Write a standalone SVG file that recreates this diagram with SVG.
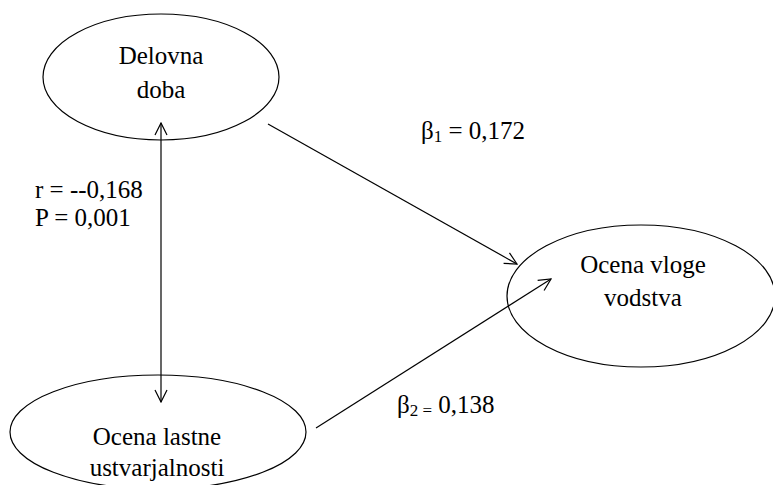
<svg xmlns="http://www.w3.org/2000/svg" width="773" height="485" viewBox="0 0 773 485">
<defs>
<marker id="ah" viewBox="0 0 14 14" refX="13" refY="7" markerWidth="14" markerHeight="14" markerUnits="userSpaceOnUse" orient="auto-start-reverse">
<path d="M1,1 L13,7 L1,13" fill="none" stroke="#000" stroke-width="1.2"/>
</marker>
<style>
.n{fill:#fff;stroke:#000;stroke-width:1.2}
.t{font-family:"Liberation Serif","Times New Roman",serif;font-size:25px;fill:#000}
.c{stroke:#000;stroke-width:1.2;fill:none}
</style>
</defs>
<rect width="773" height="485" fill="#fff"/>
<g id="node-delovna">
<ellipse class="n" cx="161" cy="77" rx="118" ry="63"/>
<text class="t" x="161" y="64" text-anchor="middle">Delovna</text>
<text class="t" x="161" y="98" text-anchor="middle">doba</text>
</g>
<g id="node-vodstvo">
<ellipse class="n" cx="641" cy="296" rx="134" ry="71"/>
<text class="t" x="643" y="273" text-anchor="middle">Ocena vloge</text>
<text class="t" x="643" y="306" text-anchor="middle">vodstva</text>
</g>
<g id="node-ustvarjalnost">
<ellipse class="n" cx="158" cy="432" rx="148" ry="57"/>
<text class="t" x="157" y="445" text-anchor="middle">Ocena lastne</text>
<text class="t" x="157" y="476" text-anchor="middle">ustvarjalnosti</text>
</g>
<g id="connectors">
<line class="c" x1="161" y1="123" x2="161" y2="402" marker-start="url(#ah)" marker-end="url(#ah)"/>
<line class="c" x1="268" y1="124" x2="517" y2="264" marker-end="url(#ah)"/>
<line class="c" x1="316" y1="428" x2="551" y2="279" marker-end="url(#ah)"/>
</g>
<g id="labels">
<text class="t" x="35" y="198">r = --0,168</text>
<text class="t" x="35" y="226">P = 0,001</text>
<text class="t" x="421" y="139">β<tspan font-size="17" dy="3">1</tspan><tspan dy="-3"> = 0,172</tspan></text>
<text class="t" x="397" y="413">β<tspan font-size="17" dy="3">2 =</tspan><tspan dy="-3"> 0,138</tspan></text>
</g>
</svg>
